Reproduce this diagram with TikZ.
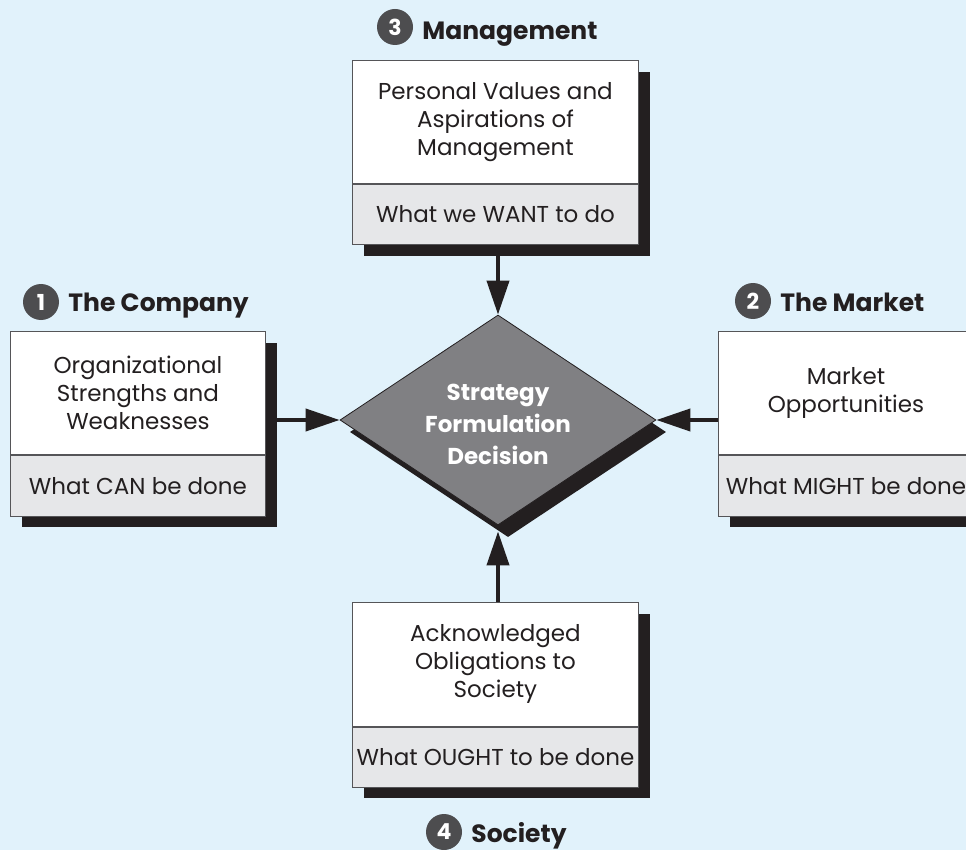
\documentclass[tikz,border=0pt]{standalone}
\usepackage{fontspec}
\setmainfont{Poppins}
\usetikzlibrary{shapes.geometric,arrows.meta}
\definecolor{bg}{RGB}{225,242,251}
\definecolor{ink}{RGB}{35,31,32}
\definecolor{shadowc}{RGB}{35,31,32}
\definecolor{panel}{RGB}{230,231,233}
\definecolor{edge}{RGB}{85,85,88}
\definecolor{diam}{RGB}{128,128,131}
\definecolor{numc}{RGB}{77,77,79}
\tikzset{
  whitebox/.style={draw=edge, line width=0.9pt, fill=white, minimum width=#1, minimum height=123pt,
    anchor=north west, inner sep=0pt, align=center, text=ink, font=\fontsize{23}{28}\selectfont},
  graybox/.style={draw=edge, line width=0.9pt, fill=panel, minimum width=#1, minimum height=61pt,
    anchor=north west, inner sep=0pt, align=center, text=ink, font=\fontsize{23}{28}\selectfont},
  shadowbox/.style={fill=shadowc, minimum width=#1, minimum height=184pt, anchor=north west, inner sep=0pt},
  numcirc/.style={circle, fill=numc, minimum size=36pt, inner sep=0pt, text=white,
    font=\fontsize{22}{22}\selectfont\bfseries},
  title/.style={anchor=base west, inner sep=0pt, text=ink, font=\fontsize{25}{25}\selectfont\bfseries},
  arr/.style={draw=ink, line width=4pt, -{Triangle[length=34pt,width=22pt]}},
  dmd/.style={diamond, minimum width=316pt, minimum height=210pt, inner sep=0pt},
}
\begin{document}
\begin{tikzpicture}[x=1pt,y=-1pt]
\useasboundingbox (0,0) rectangle (966,850);
\clip (0,0) rectangle (966,850);
\fill[bg] (0,0) rectangle (966,850);

% shadows
\node[shadowbox=255pt] (s1) at (21.5,343) {};
\node[shadowbox=255pt] (s2) at (729.5,343) {};
\node[shadowbox=286pt] (s3) at (363.5,72) {};
\node[shadowbox=286pt] (s4) at (363.5,614) {};

% Company
\node[whitebox=255pt] (w1) at (10,331) {Organizational\\Strengths and\\Weaknesses};
\node[graybox=255pt] (g1) at (w1.south west) {What CAN be done};
% Market
\node[whitebox=255pt] (w2) at (718,331) {Market\\Opportunities};
\node[graybox=255pt] (g2) at (w2.south west) {What MIGHT be done};
% Management
\node[whitebox=286pt] (w3) at (352,60) {Personal Values and\\Aspirations of\\Management};
\node[graybox=286pt, minimum height=60pt] (g3) at (w3.south west) {What we WANT to do};
% Society
\node[whitebox=286pt, minimum height=124pt] (w4) at (352,602) {Acknowledged\\Obligations to\\Society};
\node[graybox=286pt, minimum height=60pt] (g4) at (w4.south west) {What OUGHT to be done};

% diamond
\node[dmd, fill=shadowc] (dsh) at (508,432) {};
\node[dmd, fill=diam, draw=ink, line width=0.8pt] (dec) at (498,420) {};
\node[align=center, text=white, font=\fontsize{23}{32}\selectfont\bfseries] (dtext) at (498,424) {Strategy\\Formulation\\Decision};

% arrows
\draw[arr] (dec.west -| s1.east) -- (dec.west);
\draw[arr] (dec.east -| w2.west) -- (dec.east);
\draw[arr] (dec.north |- s3.south) -- (dec.north);
\draw[arr] (dec.south |- w4.north) -- ([yshift=-6pt]dec.south);

% titles
\node[numcirc] (n1) at (41,302) {1};
\node[title] (t1) at ([xshift=9pt,yshift=-10pt]n1.east) {The Company};
\node[numcirc] (n2) at (753,301) {2};
\node[title] (t2) at ([xshift=9pt,yshift=-10pt]n2.east) {The Market};
\node[numcirc] (n3) at (395,27) {3};
\node[title] (t3) at ([xshift=9pt,yshift=-13pt]n3.east) {Management};
\node[numcirc] (n4) at (444,832) {4};
\node[title] (t4) at ([xshift=9pt,yshift=-10pt]n4.east) {Society};
\end{tikzpicture}
\end{document}
